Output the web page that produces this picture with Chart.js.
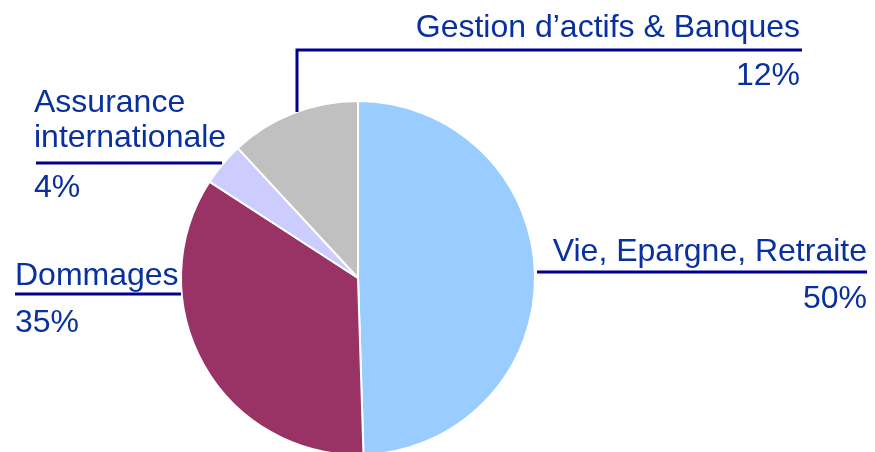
<!DOCTYPE html>
<html>
<head>
<meta charset="utf-8">
<script src="https://cdn.jsdelivr.net/npm/chart.js@4/dist/chart.umd.min.js"></script>
<style>
  html, body { margin: 0; padding: 0; background: #fff; overflow: hidden; }
  #wrap { width: 875px; height: 452px; overflow: hidden; position: relative; }
  canvas { display: block; }
</style>
</head>
<body>
<div id="wrap"><canvas id="pie" width="875" height="470"></canvas></div>
<script>
// Répartition par activité
const categories = ['Vie, Epargne, Retraite', 'Dommages', 'Assurance internationale', 'Gestion d\u2019actifs & Banques'];
const shares = [50, 35, 4, 12];
const sliceColors = ['#99CCFF', '#993366', '#CCCCFF', '#C0C0C0'];

const TEXT = '#08309E';
const LINE = '#000090';
const FONT = '32px "Liberation Sans", Arial, sans-serif';

// Callout layout for each slice: text lines, anchor, alignment and leader path
const callouts = [
  { lines: [categories[0]], pctY: 308, y: [261], x: 867, align: 'right', path: [[537, 272], [867, 272]] },
  { lines: [categories[1]], pctY: 332, y: [285], x: 15, align: 'left', path: [[15, 294], [181, 294]] },
  { lines: ['Assurance', 'internationale'], pctY: 197, y: [112, 147], x: 34, align: 'left', path: [[36, 163], [222, 163]] },
  { lines: [categories[3]], pctY: 85, y: [37], x: 800, align: 'right', path: [[297, 112], [297, 50], [802, 50]] }
];

const calloutPlugin = {
  id: 'callouts',
  afterDraw(chart) {
    const ctx = chart.ctx;
    ctx.save();
    ctx.font = FONT;
    ctx.fillStyle = TEXT;
    ctx.textBaseline = 'alphabetic';
    callouts.forEach((c, i) => {
      ctx.textAlign = c.align;
      c.lines.forEach((t, k) => ctx.fillText(t, c.x, c.y[k]));
      ctx.fillText(shares[i] + '%', c.x, c.pctY);
      ctx.beginPath();
      ctx.strokeStyle = LINE;
      ctx.lineWidth = 3;
      ctx.lineJoin = 'miter';
      c.path.forEach((p, k) => k ? ctx.lineTo(p[0], p[1]) : ctx.moveTo(p[0], p[1]));
      ctx.stroke();
    });
    ctx.restore();
  }
};

new Chart(document.getElementById('pie'), {
  type: 'pie',
  data: {
    labels: categories,
    datasets: [{
      data: shares,
      backgroundColor: sliceColors,
      borderColor: '#FFFFFF',
      borderWidth: 2
    }]
  },
  options: {
    responsive: false,
    animation: false,
    layout: { padding: { left: 180, right: 339, top: 100, bottom: 14 } },
    plugins: { legend: { display: false }, tooltip: { enabled: false } }
  },
  plugins: [calloutPlugin]
});
</script>
</body>
</html>
